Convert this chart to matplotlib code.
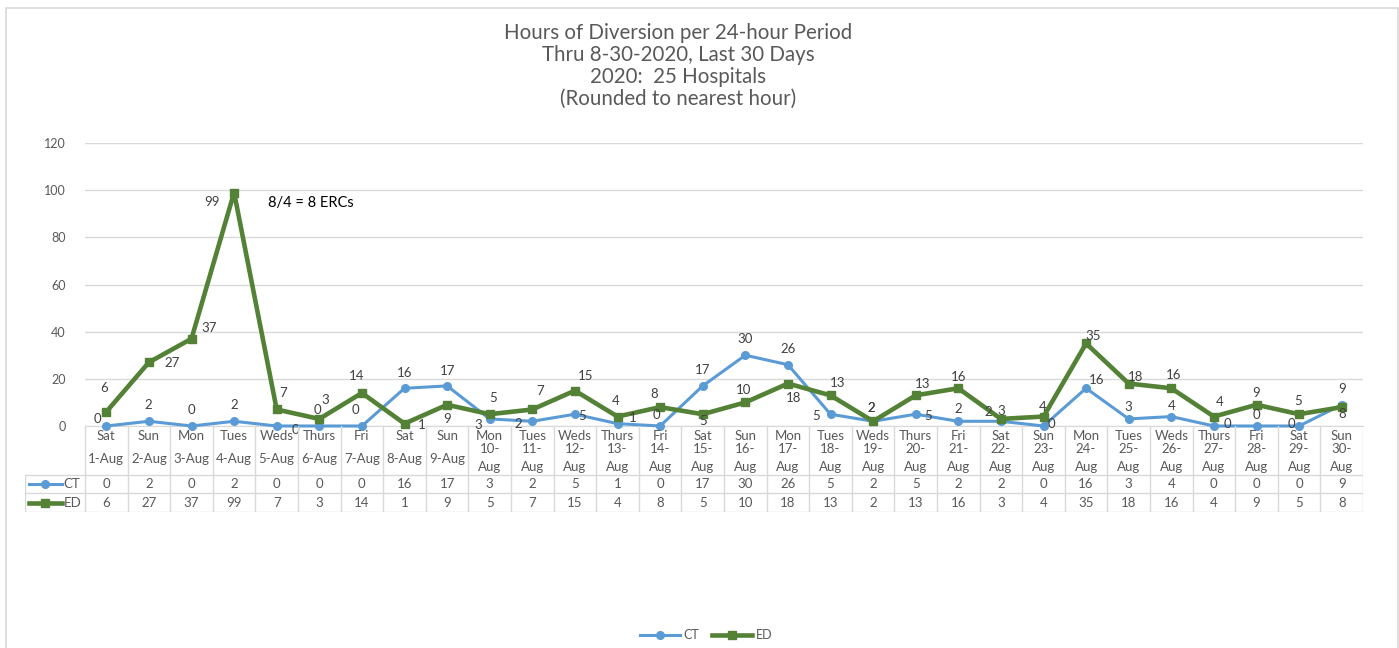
import matplotlib
matplotlib.use("Agg")
import matplotlib.pyplot as plt
from matplotlib.lines import Line2D
from matplotlib.patches import Rectangle

plt.rcParams['font.family'] = ['Lato', 'DejaVu Sans']

days = ["Sat", "Sun", "Mon", "Tues", "Weds", "Thurs", "Fri", "Sat", "Sun", "Mon",
        "Tues", "Weds", "Thurs", "Fri", "Sat", "Sun", "Mon", "Tues", "Weds", "Thurs",
        "Fri", "Sat", "Sun", "Mon", "Tues", "Weds", "Thurs", "Fri", "Sat", "Sun"]
dates = [f"{d}-Aug" for d in range(1, 31)]
ct = [0, 2, 0, 2, 0, 0, 0, 16, 17, 3, 2, 5, 1, 0, 17, 30, 26, 5, 2, 5, 2, 2, 0, 16, 3, 4, 0, 0, 0, 9]
ed = [6, 27, 37, 99, 7, 3, 14, 1, 9, 5, 7, 15, 4, 8, 5, 10, 18, 13, 2, 13, 16, 3, 4, 35, 18, 16, 4, 9, 5, 8]
title_lines = ["Hours of Diversion per 24-hour Period", "Thru 8-30-2020, Last 30 Days",
               "2020:  25 Hospitals", "(Rounded to nearest hour)"]
yticks = [0, 20, 40, 60, 80, 100, 120]

# label offsets in pixels (dx, dy; dy positive = up)
ed_off = [(-2, 24), (23, -1), (18, 11), (-22, -9), (6, 16), (6, 19), (-5, 17), (17, -1), (0, -14), (3, 16),
          (8, 18), (11, 15), (-2, 16), (-6, 13), (0, -7), (-2, 12), (6, -14), (7, 12), (-2, 13), (7, 11),
          (0, 11), (0, 8), (-1, 10), (7, 7), (7, 7), (2, 13), (6, 15), (0, 12), (-1, 13), (0, -7)]
ct_off = [(-9, 7), (-1, 16), (0, 16), (0, 16), (19, -4), (-2, 16), (-6, 16), (0, 15), (0, 15), (-11, -6),
          (-14, -3), (7, -2), (15, 6), (-4, 11), (0, 16), (0, 16), (0, 16), (-14, -2), (-2, 13), (12, -2),
          (0, 12), (-13, 9), (8, 2), (11, 8), (0, 12), (0, 11), (14, 2), (0, 11), (-8, 2), (0, 16)]

W, H = 1399, 648
fig = plt.figure(figsize=(W / 100, H / 100), dpi=100)

def fx(px):
    return px / W

def fy(py):
    return 1 - py / H

# outer border
fig.patches.append(Rectangle((fx(6), fy(700)), fx(1398) - fx(6), fy(8) - fy(700),
                             transform=fig.transFigure, fill=False, edgecolor="#D9D9D9", lw=1.2))

x0, x1 = 85, 1363
y0, y1 = 143, 426
ax = fig.add_axes([fx(x0), fy(y1), fx(x1) - fx(x0), fy(y0) - fy(y1)])
n = len(ct)
xs = list(range(n))
ax.set_xlim(-0.5, n - 0.5)
ax.set_ylim(0, 120)
ax.set_yticks(yticks)
ax.set_xticks([])
for s in ["top", "right", "left"]:
    ax.spines[s].set_visible(False)
ax.spines["bottom"].set_color("#D9D9D9")
ax.tick_params(axis="y", length=0, labelsize=9, labelcolor="#595959", pad=14)
ax.grid(axis="y", color="#D9D9D9", lw=1)
ax.set_axisbelow(True)

ct_color = "#5B9BD5"
ed_color = "#538135"
ax.plot(xs, ct, color=ct_color, lw=2.2, marker="o", ms=5.5, zorder=3, clip_on=False)
ax.plot(xs, ed, color=ed_color, lw=3.3, marker="s", ms=6, zorder=4, clip_on=False)

for i in xs:
    dx, dy = ed_off[i]
    ax.annotate(str(ed[i]), (i, ed[i]), xytext=(dx * 0.72, dy * 0.72), textcoords="offset points",
                ha="center", va="center", fontsize=9.5, color="#404040", zorder=5)
    dx, dy = ct_off[i]
    ax.annotate(str(ct[i]), (i, ct[i]), xytext=(dx * 0.72, dy * 0.72), textcoords="offset points",
                ha="center", va="center", fontsize=9.5, color="#404040", zorder=5)

ax.text(fx(268), fy(203), "8/4 = 8 ERCs", transform=fig.transFigure, ha="left", va="center",
        fontsize=10.5, color="black")

# title
for k, line in enumerate(title_lines):
    fig.text(fx(678), fy(33 + k * 22), line, ha="center", va="center", fontsize=14.8, color="#595959")

# data table
colw = (x1 - x0) / n
tl = 25
tax = fig.add_axes([fx(tl), fy(512), fx(x1) - fx(tl), fy(426) - fy(512)])
tax.set_xlim(-0.5 - (x0 - tl) / colw, n - 0.5)
tax.set_ylim(512, 426)
tax.axis("off")
gc = "#D9D9D9"
for k in range(n + 1):
    tax.plot([k - 0.5, k - 0.5], [426, 512], color=gc, lw=1)
left = -0.5 - (x0 - tl) / colw
for yy in [475, 493, 512]:
    tax.plot([left, n - 0.5], [yy, yy], color=gc, lw=1)
tax.plot([left, left], [475, 512], color=gc, lw=1)
tc = "#595959"
tfs = 9.5
for i in xs:
    tax.text(i, 436, days[i], ha="center", va="center", fontsize=tfs, color=tc)
    if i < 9:
        tax.text(i, 459, dates[i], ha="center", va="center", fontsize=tfs, color=tc)
    else:
        num, mon = dates[i].split("-")
        tax.text(i, 449, num + "-", ha="center", va="center", fontsize=tfs, color=tc)
        tax.text(i, 467, mon, ha="center", va="center", fontsize=tfs, color=tc)
    tax.text(i, 484, str(ct[i]), ha="center", va="center", fontsize=tfs, color=tc)
    tax.text(i, 503, str(ed[i]), ha="center", va="center", fontsize=tfs, color=tc)

# series keys in table
ka, kb = left + 0.1, -0.5 - 0.55
km = (ka + kb) / 2
tax.plot([ka, kb], [484, 484], color=ct_color, lw=2.2, clip_on=False)
tax.plot([km], [484], color=ct_color, marker="o", ms=5.5, clip_on=False)
tax.plot([ka, kb], [503, 503], color=ed_color, lw=3.3, clip_on=False)
tax.plot([km], [503], color=ed_color, marker="s", ms=6, clip_on=False)
tax.text(-0.5 - 0.5, 484, "CT", ha="left", va="center", fontsize=tfs, color=tc)
tax.text(-0.5 - 0.5, 503, "ED", ha="left", va="center", fontsize=tfs, color=tc)

# legend
handles = [Line2D([], [], color=ct_color, lw=2.2, marker="o", ms=5.5),
           Line2D([], [], color=ed_color, lw=3.3, marker="s", ms=6)]
fig.legend(handles, ["CT", "ED"], loc="center", bbox_to_anchor=(fx(706), fy(635)), ncol=2,
           frameon=False, fontsize=9, handlelength=3.2, columnspacing=1.0, handletextpad=0.3,
           labelcolor=tc)

fig.savefig("out.png", dpi=100)
